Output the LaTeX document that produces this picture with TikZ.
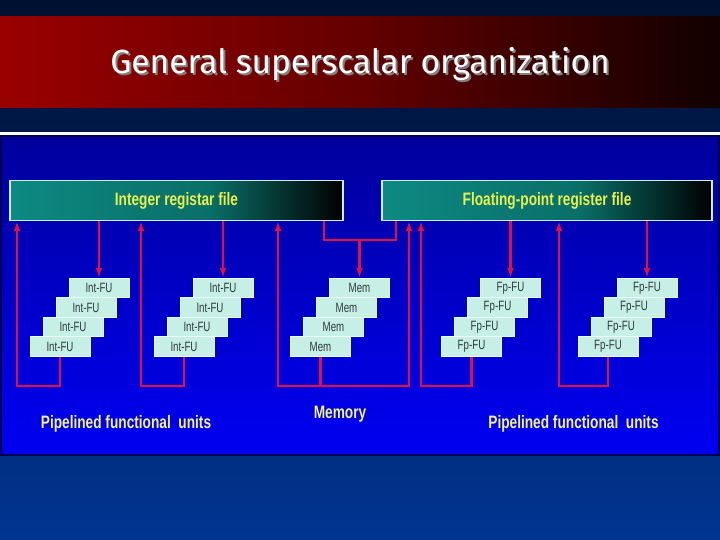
\documentclass[tikz,border=0pt]{standalone}
\usepackage{fontspec}
\usepackage{xcolor}
\usepackage{tikz}
\usetikzlibrary{arrows.meta}
\usetikzlibrary{calc}
\newfontfamily\titlefont{Fira Sans}
\newfontfamily\narrowsans[FakeStretch=0.76]{Liberation Sans}
\newfontfamily\boxsans[FakeStretch=0.72]{Liberation Sans}
\definecolor{bgtop}{HTML}{001030}
\definecolor{bgbot}{HTML}{003592}
\definecolor{bandred}{HTML}{9A0000}
\definecolor{bandend}{HTML}{120000}
\definecolor{paneltop}{HTML}{00009C}
\definecolor{panelbot}{HTML}{0000F2}
\definecolor{regteal}{HTML}{0C8A82}
\definecolor{regyellow}{HTML}{E8F04C}
\definecolor{labyellow}{HTML}{F2F282}
\definecolor{fucyan}{HTML}{C6F0E6}
\definecolor{futext}{HTML}{303840}
\definecolor{busred}{HTML}{E4103C}
\pgfdeclarehorizontalshading{regfill}{100bp}{color(0bp)=(regteal); color(25bp)=(regteal); color(55bp)=(regteal!80!black); color(75bp)=(black); color(100bp)=(black)}
\tikzstyle{regfile}=[rectangle,draw=white!80!cyan,line width=1.2pt,shading=regfill,minimum width=332pt,minimum height=40pt,inner sep=0pt,text=regyellow,font=\narrowsans\bfseries\fontsize{18}{20}\selectfont]
\tikzstyle{fubox}=[rectangle,fill=fucyan,draw=white!70!fucyan,line width=0.8pt,minimum width=60pt,minimum height=19.5pt,inner sep=0pt,text=futext,font=\boxsans\fontsize{13.5}{15}\selectfont]
\tikzstyle{bus} = [draw=busred,line width=2.3pt,>={Latex[length=10pt,width=7pt]}]
\tikzstyle{label} = [text=labyellow,font=\narrowsans\bfseries\fontsize{18}{20}\selectfont]
\tikzset{titletext/.style={font=\titlefont\fontsize{33.5}{38}\selectfont,text=white}}

\begin{document}
\begin{tikzpicture}[x=1pt,y=-1pt]

  \useasboundingbox (0,0) rectangle (720,540);
  \fill[top color=bgtop,bottom color=bgbot] (0,0) rectangle (720,540);
  \shade[left color=bandred,right color=bandend,middle color=bandred!65!black] (0,17) rectangle (720,108);
  \fill[white] (0,132) rectangle (720,135);
  \draw[draw=black!70!blue,line width=1.5pt,top color=paneltop,bottom color=panelbot] (1,136) rectangle (719,455);

  \node[titletext,text=gray] (titleshadow) at (362,66) {General superscalar organization};
  \node[titletext] (title) at (360,64) {General superscalar organization};

  \node[regfile,minimum width=333pt] (intrf) at (176.5,200.5) {Integer registar file};
  \node[regfile,minimum width=330pt] (fprf) at (547,200.5) {Floating-point register file};

   \foreach \gx/\grp/\label in {99/ia/Int-FU, 223/ib/Int-FU, 359.5/mm/Mem, 510.5/fa/Fp-FU, 647/fb/Fp-FU}
     \foreach \k in {1,...,4}
          \node[fubox] (\grp\k) at ({\gx-13*(\k-1)},{288+19.5*(\k-1)}) {\label};

  \foreach \grp/\lx/\rf in {ia/17/intrf, ib/141/intrf, mm/278/intrf, mm/409/fprf, fa/421/fprf, fb/559/fprf}
  {
         \coordinate (ret\lx) at (\lx,386);
         \draw[bus,->] (\grp4.south) |- (ret\lx) -- (ret\lx |- \rf.south);
  }

  \foreach \rf/\grp in {intrf/ia, intrf/ib, fprf/fa, fprf/fb}
         \draw[bus,->] (\grp1.north |- \rf.south) -- (\grp1.north);

  \coordinate (mleft) at (324,240);
  \coordinate (mright) at (396,240);
  \draw[bus] (mleft |- intrf.south) -- (mleft) -- (mright) -- (mright |- fprf.south);
  \draw[bus,->] (mm1.north |- mleft) -- (mm1.north);

  \node[label] (intlabel) at (126,424) {Pipelined functional\ \ units};
  \node[label] (memlabel) at (340,414) {Memory};
  \node[label] (fplabel) at (573.5,424) {Pipelined functional\ \ units};

\end{tikzpicture}
\end{document}
